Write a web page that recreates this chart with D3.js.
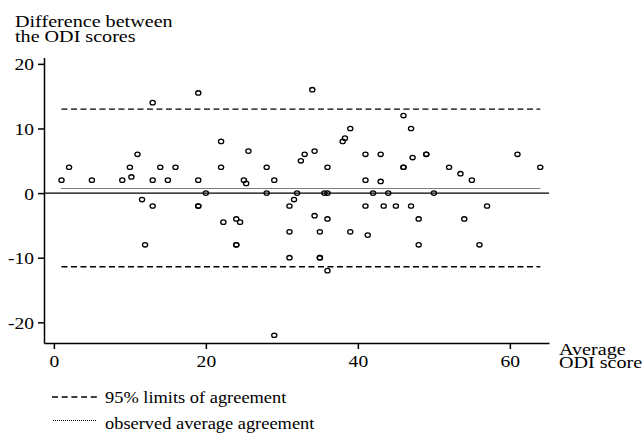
<!DOCTYPE html>
<html>
<head>
<meta charset="utf-8">
<script src="https://cdn.jsdelivr.net/npm/d3@7"></script>
<style>
  body { margin: 0; background: #fff; }
  text { font-family: "Liberation Serif", "Times New Roman", serif; fill: #000; }
</style>
</head>
<body>
<svg width="644" height="434"></svg>
<script>
// average of the two ODI scores
let avgScore = [1, 2, 5, 9, 10, 10.2, 11, 11.6, 12, 13, 13, 13, 14, 15, 16,
  19, 19, 19, 19, 20, 22, 22, 22.3, 24, 24.5, 24, 24, 25, 25.3, 25.6,
  28, 28, 29, 29, 31, 31, 31, 31.6, 32, 32.5, 33, 34, 34.3, 34.3,
  35, 35, 35, 35.6, 36, 36, 36, 36, 38, 38.3, 39, 39,
  41, 41, 41, 41.3, 42, 43, 43, 43.4, 44, 45, 46, 46, 46, 47, 47.2, 47,
  48, 48, 49, 49, 50, 52, 53.5, 54, 55, 56, 57, 61, 64]
// difference between the two ODI scores
let diffScore = [2, 4, 2, 2, 4, 2.5, 6, -1, -8, 14, 2, -2, 4, 2, 4,
  15.5, 2, -2, -2, 0, 8, 4, -4.5, -4, -4.5, -8, -8, 2, 1.5, 6.5,
  4, 0, 2, -22, -2, -6, -10, -1, 0, 5, 6, 16, 6.5, -3.5,
  -6, -10, -10, 0, 0, 4, -4, -12, 8, 8.5, 10, -6,
  6, 2, -2, -6.5, 0, 6, 1.8, -2, 0, -2, 12, 4, 4, 10, 5.5, -2,
  -4, -8, 6, 6, 0, 4, 3, -4, 2, -8, -2, 6, 4]

let upperLimit = 13
let lowerLimit = -11.4
let meanDiff = 0.8

let xTicks = [0, 20, 40, 60]
let yTicks = [-20, -10, 0, 10, 20]

let svg = d3.select("svg")

let x = d3.scaleLinear().domain([-1.3, 65.15]).range([44, 549])
let y = d3.scaleLinear().domain([-23.2, 21]).range([343, 57.4])

// the reference type is a little wide, so stretch it sideways
let stretch = 1.15

function addText(parent, tx, ty, str, size, anchor){
  return parent.append("text")
      .attr("transform", "translate(" + tx + "," + ty + ") scale(" + stretch + ",1)")
      .attr("font-size", size)
      .attr("text-anchor", anchor || "start")
      .text(str)
}

// axes
svg.append("g")
    .attr("class", "axis axis--y")
    .attr("transform", "translate(44,0)")
    .call(d3.axisLeft(y).tickValues(yTicks).tickFormat(d=>String(d)).tickSize(6).tickSizeOuter(0))
svg.append("g")
    .attr("class", "axis axis--x")
    .attr("transform", "translate(0,343)")
    .call(d3.axisBottom(x).tickValues(xTicks).tickFormat(d=>String(d)).tickSize(6).tickSizeOuter(0))

svg.selectAll(".domain, .tick line").attr("stroke", "#000").attr("stroke-width", 1.5)
svg.selectAll(".tick text").remove()

svg.select(".axis--y").selectAll(".tick")
    .each(function(d){
      addText(d3.select(this), -10, 6, String(d), 17, "end")
    })
svg.select(".axis--x").selectAll(".tick")
    .each(function(d){
      addText(d3.select(this), 0, 24, String(d), 17, "middle")
    })

// zero line
svg.append("line")
    .attr("x1", x.range()[0]).attr("x2", x.range()[1])
    .attr("y1", y(0)).attr("y2", y(0))
    .attr("stroke", "#000").attr("stroke-width", 1.3)

// limits of agreement
let xMin = d3.min(avgScore), xMax = d3.max(avgScore)
svg.selectAll(".limit")
  .data([upperLimit, lowerLimit])
  .enter().append("line")
    .attr("class", "limit")
    .attr("x1", x(xMin)).attr("x2", x(xMax))
    .attr("y1", d=>y(d)).attr("y2", d=>y(d))
    .attr("stroke", "#000").attr("stroke-width", 1.3)
    .attr("stroke-dasharray", "6,3.5")

svg.append("line")
    .attr("x1", x(xMin)).attr("x2", x(xMax))
    .attr("y1", Math.round(y(meanDiff)) + 0.5).attr("y2", Math.round(y(meanDiff)) + 0.5)
    .attr("stroke", "#000").attr("stroke-width", 1)
    .attr("stroke-dasharray", "1,1")

// points
svg.selectAll(".pt")
  .data(avgScore.map((a, i)=>({a: a, d: diffScore[i]})))
  .enter().append("ellipse")
    .attr("class", "pt")
    .attr("cx", d=>x(d.a))
    .attr("cy", d=>y(d.d))
    .attr("rx", 2.6)
    .attr("ry", 2.2)
    .attr("fill", "none")
    .attr("stroke", "#000")
    .attr("stroke-width", 1.3)

// axis titles
addText(svg, 15, 27, "Difference between", 17.5)
addText(svg, 15, 42, "the ODI scores", 17.5)
addText(svg, 559, 355, "Average", 17.5)
addText(svg, 559, 368, "ODI score", 17.5)

// legend
let legend = svg.append("g")
legend.append("line")
    .attr("x1", 52).attr("x2", 99).attr("y1", 397).attr("y2", 397)
    .attr("stroke", "#000").attr("stroke-width", 1.3).attr("stroke-dasharray", "6,3.7")
addText(legend, 105, 403, "95% limits of agreement", 16)
legend.append("line")
    .attr("x1", 53).attr("x2", 97).attr("y1", 420.5).attr("y2", 420.5)
    .attr("stroke", "#000").attr("stroke-width", 1).attr("stroke-dasharray", "1,1")
addText(legend, 105, 429, "observed average agreement", 16)
</script>
</body>
</html>
